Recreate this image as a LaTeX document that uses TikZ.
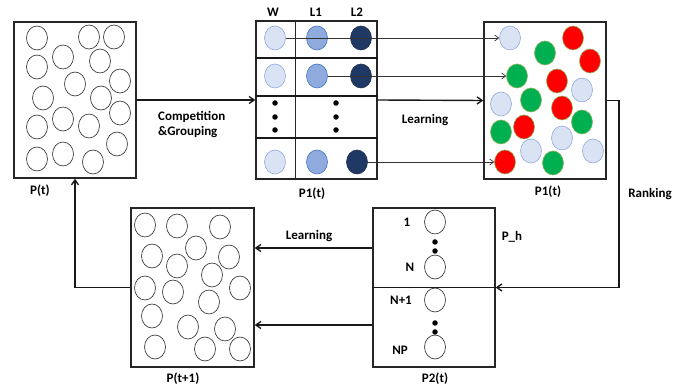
\documentclass[tikz,border=0pt]{standalone}
\usepackage{fontspec}
\setmainfont{Carlito}
\usetikzlibrary{arrows.meta,shapes.geometric}
\definecolor{lbfill}{HTML}{DAE3F3}
\definecolor{lbdraw}{HTML}{8FAADC}
\definecolor{mbfill}{HTML}{8FAADC}
\definecolor{mbdraw}{HTML}{4472C4}
\definecolor{dbfill}{HTML}{203864}
\definecolor{dbdraw}{HTML}{1F3050}
\definecolor{grfill}{HTML}{00B050}
\definecolor{rdfill}{HTML}{FF0000}
\definecolor{cdraw}{HTML}{8DB360}
\begin{document}
\begin{tikzpicture}[x=1pt,y=-1pt,
  lbl/.style={font=\fontsize{13}{15}\selectfont\bfseries, inner sep=0pt},
  frame/.style={draw=black!85, line width=1.4pt, inner sep=0pt},
  wc/.style={ellipse, draw=black!80, line width=0.65pt, minimum width=21pt, minimum height=24pt, inner sep=0pt},
  circlb/.style={ellipse, draw=lbdraw, fill=lbfill, line width=0.6pt, minimum width=21pt, minimum height=24pt, inner sep=0pt},
  circmb/.style={ellipse, draw=mbdraw, fill=mbfill, line width=0.6pt, minimum width=21pt, minimum height=24pt, inner sep=0pt},
  circdb/.style={ellipse, draw=dbdraw, fill=dbfill, line width=0.6pt, minimum width=21pt, minimum height=24pt, inner sep=0pt},
  circgr/.style={ellipse, draw=cdraw, fill=grfill, line width=0.6pt, minimum width=21pt, minimum height=24pt, inner sep=0pt},
  circrd/.style={ellipse, draw=cdraw, fill=rdfill, line width=0.6pt, minimum width=21pt, minimum height=24pt, inner sep=0pt},
  dotn/.style={circle, fill=black, minimum size=5.5pt, inner sep=0pt},
  bigarrow/.style={line width=1.4pt, draw=black!90, -{Straight Barb[length=5pt,width=7pt]}},
  thinarrow/.style={line width=0.7pt, draw=black!80, -{Straight Barb[length=4pt,width=6pt]}},
]
\useasboundingbox (0,0) rectangle (697,390);

% ---------- Box P(t)
\node[frame, minimum width=122pt, minimum height=156pt] (B1) at (75,100) {};
\foreach \x/\y [count=\i] in {37/38,89/37,114/37,63/57,37/67,100/61,75/84,120/81,43/98,101/98,63/119,120/113,37/127,89/126,117/144,37/159,63/154,93/162}
  \node[wc] (a\i) at (\x,\y) {};
\node[lbl] (lb1) at (40,191) {P(t)};

% ---------- Table P1(t)
\node[frame, minimum width=121pt, minimum height=158pt] (T) at (316.5,100) {};
\coordinate (tcol) at (295,0);
\draw[line width=1pt, black!85] (T.north -| tcol) -- (T.south -| tcol);
\foreach \yy in {58,96,138}
  \draw[line width=1.8pt, black!90] (T.west |- 0,\yy) -- (T.east |- 0,\yy);
\node[lbl] (hW) at (273,12) {W};
\node[lbl] (hL1) at (316,12) {L1};
\node[lbl] (hL2) at (357,12) {L2};
\node[circlb] (tw1) at (275,38) {};
\node[circmb] (tl1) at (317,38) {};
\node[circdb] (tk1) at (361,38) {};
\node[circlb] (tw2) at (275,76) {};
\node[circmb] (tl2) at (317,76) {};
\node[circdb] (tk2) at (361,76) {};
\node[circlb] (tw4) at (275,162) {};
\node[circmb] (tl4) at (317,162) {};
\node[circdb] (tk4) at (357,162) {};
\foreach \yy [count=\i] in {103,117,130} {
  \node[dotn] (dw\i) at (275,\yy) {};
  \node[dotn] (dl\i) at (336,\yy) {};
}
\node[lbl] (lb2) at (312,194) {P1(t)};

% ---------- Right box P1(t)
\node[frame, minimum width=122pt, minimum height=157pt] (R) at (545,100.5) {};
\foreach \x/\y/\s [count=\i] in {510/38/circlb,573/38/circrd,545/53/circgr,590/61/circrd,517/76/circgr,557/81/circrd,582/90/circlb,501/104/circlb,531/100/circgr,562/108/circrd,582/122/circgr,501/132/circgr,524/127/circrd,562/138/circlb,531/151/circlb,593/151/circlb,505/162/circrd,553/163/circgr}
  \node[\s] (r\i) at (\x,\y) {};
\node[lbl] (lb3) at (548,192) {P1(t)};

% ---------- Bottom right box P2(t)
\node[frame, minimum width=122pt, minimum height=159pt] (P2) at (434,287.5) {};
\draw[line width=1.8pt, black!90] (P2.west) -- (P2.east);
\node[wc] (p1) at (435,222) {};
\node[wc] (pN) at (435,267) {};
\node[wc] (pN1) at (435,300) {};
\node[wc] (pNP) at (435,347) {};
\node[dotn] (pd1) at (435,242) {};
\node[dotn] (pd2) at (435,251) {};
\node[dotn] (pd3) at (435,323) {};
\node[dotn] (pd4) at (435,332) {};
\node[lbl] (t1) at (407,222) {1};
\node[lbl] (tN) at (410,267) {N};
\node[lbl] (tN1) at (401,300) {N+1};
\node[lbl] (tNP) at (400,350) {NP};
\node[lbl] (tPh) at (512,237) {P\_h};
\node[lbl] (lb4) at (435,379) {P2(t)};

% ---------- Bottom left box P(t+1)
\node[frame, minimum width=123pt, minimum height=159pt] (Q) at (192.5,287.5) {};
\foreach \x/\y [count=\i] in {145/225,177/226,220/227,196/248,152/256,229/257,177/266,212/275,145/288,240/288,173/292,209/302,152/316,188/327,225/329,155/347,205/349,240/349}
  \node[wc] (q\i) at (\x,\y) {};
\node[lbl] (lb5) at (183,379) {P(t+1)};

% ---------- Connectors
\draw[bigarrow] (B1.east) -- (T.west);
\node[lbl, align=left, anchor=north west] (cg) at (158,111) {Competition\\\&Grouping};
\draw[bigarrow] (T.east) -- (R.west);
\node[lbl] (lrn1) at (425,120) {Learning};

\draw[thinarrow] (tw1.east) -- (r1.west);
\draw[thinarrow] (tl2.east) -- (r5.west);
\draw[thinarrow] (tk4.east) -- (r17.west);

\coordinate (rk) at (619,100.5);
\draw[bigarrow] (R.east) -- (rk) |- (P2.east);
\node[lbl] (rank) at (650,194) {Ranking};

\coordinate (ya) at (0,248);
\coordinate (yb) at (0,325);
\draw[bigarrow] (P2.west |- ya) -- (Q.east |- ya);
\draw[bigarrow] (P2.west |- yb) -- (Q.east |- yb);
\node[lbl] (lrn2) at (309,236) {Learning};

\draw[bigarrow] (Q.west) -| (B1.south);
\end{tikzpicture}
\end{document}
